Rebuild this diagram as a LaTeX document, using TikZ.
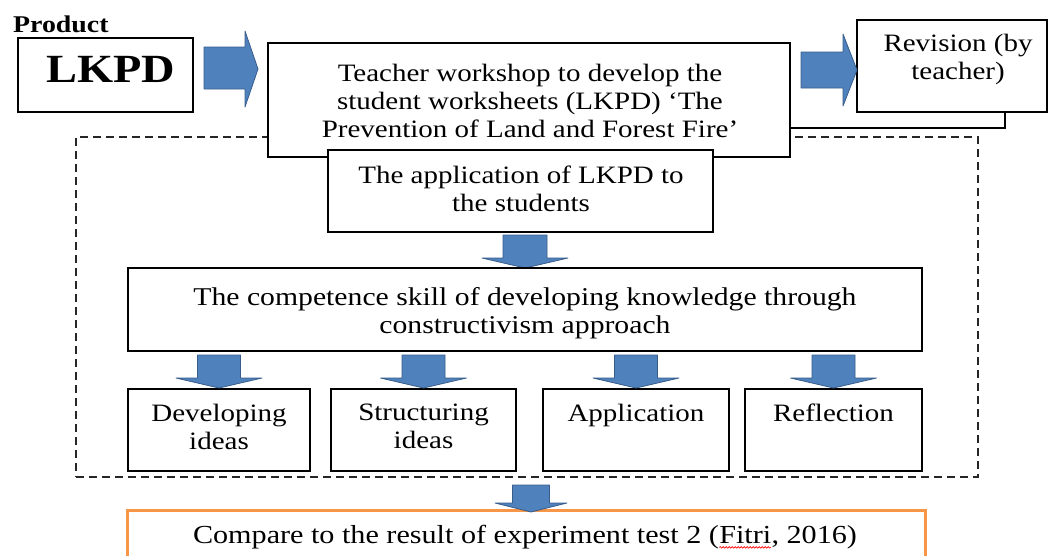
\documentclass[tikz,border=0pt]{standalone}
\usepackage{fontspec}
\setmainfont{Liberation Serif}[FakeStretch=1.16]
\usetikzlibrary{decorations.pathmorphing}
\definecolor{arrfill}{HTML}{4F81BD}
\definecolor{arrline}{HTML}{385D8A}
\definecolor{orng}{HTML}{F79646}
\newcommand\redwave[1]{\begin{tikzpicture}[baseline=(w.base)]\node[inner sep=0pt,outer sep=0pt] (w) {#1};\draw[red,line width=0.6pt,decorate,decoration={snake,amplitude=0.8pt,segment length=3pt}] ([yshift=-4pt]w.base west) -- ([yshift=-4pt]w.base east);\end{tikzpicture}}
\newcommand\downblk[6]{% cx, top, base, tip, shaft half, head half
  \draw[blk] ({#1-#5},#2) -- ({#1+#5},#2) -- ({#1+#5},#3) -- ({#1+#6},#3) -- (#1,#4) -- ({#1-#6},#3) -- ({#1-#5},#3) -- cycle;}
\begin{document}
\begin{tikzpicture}[x=1pt,y=-1pt,
  box/.style={draw=black,line width=2.7pt,fill=white,inner sep=0pt},
  txt/.style={font=\fontsize{25}{28}\selectfont,align=center,inner sep=0pt},
  blk/.style={fill=arrfill,draw=arrline,line width=0.8pt,line join=round},
  dashbox/.style={draw=black!85,line width=1.5pt,dash pattern=on 8pt off 5pt},
  orangebox/.style={draw=orng,line width=3pt,fill=white,inner sep=0pt}]
\useasboundingbox (0,0) rectangle (1051,555);
\clip (0,0) rectangle (1051,555);
\fill[white] (0,0) rectangle (1051,555);

% dashed frame
\node[dashbox,minimum width=902pt,minimum height=340pt,inner sep=0pt] (frame) at (527,307) {};

% top row
\node[anchor=base west,inner sep=0pt,font=\bfseries\fontsize{24}{26}\selectfont] (prod) at (13,32) {Product};
\node[box,minimum width=175pt,minimum height=74pt] (lkpd) at (105.5,75) {};
\node[inner sep=0pt,font=\bfseries\fontsize{40}{44}\selectfont] (lkpdt) at (111,69) {LKPD};

\coordinate (shb) at (1005,128);
\node[box,minimum width=190pt,minimum height=92pt] (rev) at (952,66) {};
\node[box,minimum width=522pt,minimum height=114pt] (teach) at (529,100) {};
\draw[draw=black,line width=2.7pt] (teach.east |- shb) -- (shb) -- (shb |- rev.south);
\node[txt] (teacht) at (530,101) {Teacher workshop to develop the\\student worksheets (LKPD) `The\\Prevention of Land and Forest Fire'};
\node[txt] (revt) at (958,59) {Revision (by\\teacher)};

% right arrows
\draw[blk] (204,47) -- (245,47) -- (245,31) -- (258,69) -- (245,107) -- (245,89) -- (204,89) -- cycle;
\draw[blk] (801,52) -- (843,52) -- (843,34) -- (857,70) -- (843,106) -- (843,88) -- (801,88) -- cycle;

% application
\node[box,line width=2.4pt,minimum width=385pt,minimum height=82pt] (appl) at (520.5,191) {};
\node[txt] (applt) at (521,188.5) {The application of LKPD to\\the students};
\downblk{525}{235}{258}{268}{22}{43}

% competence
\node[box,minimum width=794pt,minimum height=83pt] (comp) at (525,309.5) {};
\node[txt,font=\fontsize{25.6}{28}\selectfont] (compt) at (525,313) {The competence skill of developing knowledge through\\constructivism approach};

% bottom row
\node[box,minimum width=182pt,minimum height=82pt] (dev) at (219,430) {};
\node[box,minimum width=185pt,minimum height=82pt] (str) at (423.5,430) {};
\node[box,minimum width=186pt,minimum height=82pt] (app) at (636,430) {};
\node[box,minimum width=177pt,minimum height=82pt] (ref) at (833.5,430) {};
\node[txt,anchor=north] (devt) at (219,404) {Developing\\ideas};
\node[txt,anchor=north] (strt) at (423.5,404) {Structuring\\ideas};
\node[txt,anchor=north] (appt) at (636,404) {Application};
\node[txt,anchor=north] (reft) at (833.5,404) {Reflection};
\downblk{219}{355}{378}{388}{21.5}{43}
\downblk{423.5}{355}{378}{388}{21.5}{43}
\downblk{636}{355}{378}{388}{21.5}{43}
\downblk{833.5}{355}{378}{388}{21.5}{43}

% compare
\node[orangebox,minimum width=798pt,minimum height=70pt] (cmp) at (526,545) {};
\downblk{531}{485}{503}{512}{18.5}{36}
\node[txt,font=\fontsize{26}{28}\selectfont] (cmpt) at (525,537) {Compare to the result of experiment test 2 (\redwave{Fitri}, 2016)};
\end{tikzpicture}
\end{document}
